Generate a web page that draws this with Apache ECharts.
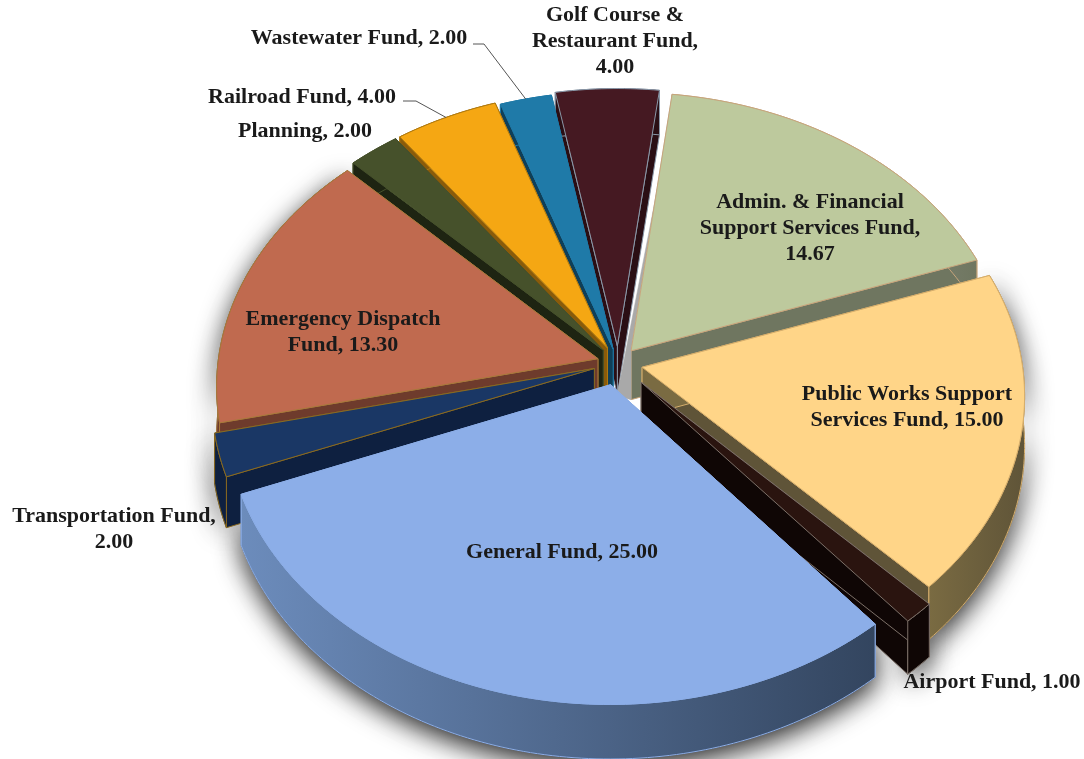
<!DOCTYPE html>
<html><head><meta charset="utf-8">
<style>html,body{margin:0;padding:0;background:#fff}#c{width:1084px;height:759px}</style>
<script src="https://cdn.jsdelivr.net/npm/echarts@6/dist/echarts.min.js"></script>
</head><body><div id="c"></div>
<script>
// Data, clockwise from the top
const categories = ['Admin. & Financial Support Services Fund','Public Works Support Services Fund','Airport Fund','General Fund','Transportation Fund','Emergency Dispatch Fund','Planning','Railroad Fund','Wastewater Fund','Golf Course & Restaurant Fund'];
const values = [14.67,15,1,25,2,13.3,2,4,2,4];
// Label wrapping and placement
const labelText = [
 'Admin. & Financial\nSupport Services Fund,\n{v}','Public Works Support\nServices Fund, {v}','Airport Fund, {v}','General Fund, {v}',
 'Transportation Fund,\n{v}','Emergency Dispatch\nFund, {v}','Planning, {v}','Railroad Fund, {v}','Wastewater Fund, {v}','Golf Course &\nRestaurant Fund,\n{v}'];
const labelX = [810,907,992,562,114,343,305,302,359,615];
const labelY = [228,407,682,552,529,332,131,97,38,41];
const leaderElbow = {7:[[403,101],[416,101]],8:[[473,44],[484,44]]};
// Styling
const topColors  = ['#BDC99D','#FFD588','#2A140F','#8CAEE8','#1A3765','#C06A4F','#46512B','#F5A713','#1F7AA8','#451922'];
const wallLeft   = ['#A9A9A9','#7A6B42','#0F0605','#6C8CBC','#0E2040','#6E3B2C','#1E2412','#8A5B0A','#0F3F58','#2A0E14'];
const wallRight  = ['#6F7660','#5F5438','#0F0605','#33455F','#0E2040','#6E3B2C','#1E2412','#8A5B0A','#0F3F58','#2A0E14'];
const edgeColors = ['#C8A57C','#D6AE6C','#7C7068','#8CAEE8','#8A6A20','#A8783A','#46512B','#B07A10','#1F7AA8','#8A98A8'];
const explode    = [.055,.065,.09,.078,.065,.055,.06,.06,.05,.06];
const paintOrder = [9,8,7,6,0,5,1,4,2,3];
const startAngle = 7;
// Projection of the tilted disc
const cx=618, cy=363, R=380, tilt=.75, persp=.095, depth=49;
const total = values.reduce((a,b)=>a+b,0);
const rad = d=>d*Math.PI/180;
const starts = []; values.reduce((a,v,i)=>(starts[i]=a,a+v/total*360),startAngle);
function proj(x,y,z){const s=1/(1-persp*y);return [cx+R*x*s, cy+R*tilt*y*s+z*depth*s];}
function geom(i,v){
  const a0=starts[i], a1=a0+v/total*360, m=rad((a0+a1)/2);
  const ox=explode[i]*Math.sin(m), oy=-explode[i]*Math.cos(m);
  const rim=[]; const n=Math.max(2,Math.ceil(a1-a0));
  for(let k=0;k<=n;k++){const a=rad(a0+(a1-a0)*k/n);rim.push([ox+Math.sin(a),oy-Math.cos(a)]);}
  return {ox,oy,rim,mid:m};
}
const poly=(points,fill,stroke,extra)=>({type:'polygon',shape:{points},silent:true,
  style:Object.assign({fill,stroke:stroke||fill,lineWidth:stroke?1:.5},extra||{})});
function renderShadow(params,api){
  const i=api.value(1), g=geom(i,api.value(0));
  if(Math.cos(g.mid)>.3) return {type:'group',children:[]};
  const pts=g.rim.map(p=>proj(p[0],p[1],1)).concat(g.rim.slice().reverse().map(p=>proj(p[0],p[1],0)));
  return poly(pts,'#333',null,{shadowBlur:26,shadowColor:'rgba(0,0,0,.85)',shadowOffsetY:8});
}
function renderSlice(params,api){
  const i=api.value(1), g=geom(i,api.value(0));
  const aT=proj(g.ox,g.oy,0), aB=proj(g.ox,g.oy,1);
  const r=g.rim, fT=proj(r[0][0],r[0][1],0), fB=proj(r[0][0],r[0][1],1);
  const lT=proj(r[r.length-1][0],r[r.length-1][1],0), lB=proj(r[r.length-1][0],r[r.length-1][1],1);
  const outer=r.map(p=>proj(p[0],p[1],0)).concat(r.slice().reverse().map(p=>proj(p[0],p[1],1)));
  const grad={type:'linear',x:0,y:0,x2:1,y2:0,colorStops:[{offset:0,color:wallLeft[i]},{offset:1,color:wallRight[i]}]};
  const kids=[
    poly([aT,lT,lB,aB],wallRight[i],edgeColors[i]),
    i===0 ? poly([aT,fT,[fT[0]-6,fT[1]+50],[aB[0]-14,aB[1]-4],aB],wallLeft[i],null)
          : poly([aT,fT,fB,aB],wallLeft[i],edgeColors[i]),
    poly(outer,grad,edgeColors[i]),
    poly([aT].concat(r.map(p=>proj(p[0],p[1],0))),topColors[i],edgeColors[i])
  ];
  return {type:'group',children:kids};
}
function renderLabel(params,api){
  const i=api.value(1), v=api.value(0), g=geom(i,v);
  const kids=[{type:'text',silent:true,x:labelX[i],y:labelY[i],style:{
    text:labelText[i].replace('{v}',v.toFixed(2)),fill:'#1A1A1A',align:'center',verticalAlign:'middle',
    font:'bold 22px "Liberation Serif"',lineHeight:26}}];
  if(leaderElbow[i]){
    const end=proj(g.ox+Math.sin(g.mid),g.oy-Math.cos(g.mid),0);
    kids.push({type:'polyline',silent:true,shape:{points:leaderElbow[i].concat([end])},style:{fill:'none',stroke:'#555',lineWidth:1}});
  }
  return {type:'group',children:kids};
}
const rows=paintOrder.map(i=>({name:categories[i],value:[values[i],i]}));
const chart=echarts.init(document.getElementById('c'),null,{renderer:'canvas'});
const base={type:'custom',coordinateSystem:'none',data:rows,animation:false,silent:true,encode:{value:0}};
chart.setOption({backgroundColor:'#fff',animation:false,series:[
  Object.assign({},base,{renderItem:renderShadow,z:1}),
  Object.assign({},base,{renderItem:renderSlice,z:2}),
  Object.assign({},base,{renderItem:renderLabel,z:3})
]});
</script></body></html>
